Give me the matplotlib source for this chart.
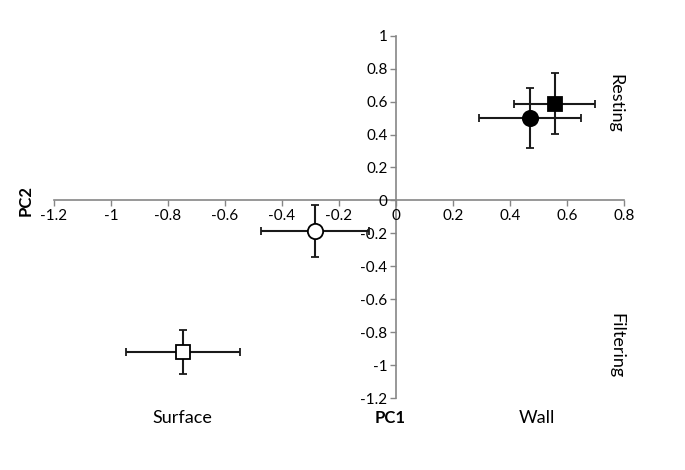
import matplotlib
matplotlib.use("Agg")
import matplotlib.pyplot as plt

plt.rcParams['font.family'] = ['Lato', 'DejaVu Sans']

# Data (PC1, PC2 with errors)
labels = ["filled circle", "filled square", "open circle", "open square"]
pc1 = [0.47, 0.557, -0.284, -0.748]
pc2 = [0.50, 0.588, -0.185, -0.92]
pc1_err = [0.178, 0.142, 0.19, 0.2]
pc2_err = [0.18, 0.183, 0.158, 0.136]
markers = ["o", "s", "o", "s"]
faces = ["black", "black", "white", "white"]
xticks = [-1.2, -1, -0.8, -0.6, -0.4, -0.2, 0, 0.2, 0.4, 0.6, 0.8]
yticks = [-1.2, -1, -0.8, -0.6, -0.4, -0.2, 0, 0.2, 0.4, 0.6, 0.8, 1]

fig = plt.figure(figsize=(6.85, 4.7), dpi=100)
ax = fig.add_axes([0.0788, 0.153, 0.832, 0.771])
ax.set_xlim(-1.2, 0.8)
ax.set_ylim(-1.2, 1.0)

for x, y, xe, ye, m, fc in zip(pc1, pc2, pc1_err, pc2_err, markers, faces):
    ax.errorbar(x, y, xerr=xe, yerr=ye, fmt=m, color="black", mfc=fc, mec="black",
                ms=11 if m == "o" else 10, mew=1.3, ecolor="#1a1a1a", elinewidth=1.5,
                capsize=3, capthick=1.5, zorder=5)

axcol = "#868686"
for s in ["top", "right"]:
    ax.spines[s].set_visible(False)
ax.spines["left"].set_position(("data", 0))
ax.spines["bottom"].set_position(("data", 0))
ax.spines["left"].set_color(axcol)
ax.spines["bottom"].set_color(axcol)
ax.spines["left"].set_linewidth(1.2)
ax.spines["bottom"].set_linewidth(1.2)
ax.spines["left"].set_zorder(1)
ax.spines["bottom"].set_zorder(1)

ax.set_xticks(xticks)
ax.set_yticks(yticks)
ax.set_xticklabels([f"{v:g}" for v in xticks])
ax.set_yticklabels([f"{v:g}" for v in yticks])
ax.tick_params(axis="both", direction="out", length=4, width=1, color=axcol,
               labelsize=11, labelcolor="black", pad=2)

fig.text(0.037, 0.574, "PC2", rotation=90, fontsize=12, fontweight="bold",
         ha="center", va="center")
fig.text(0.570, 0.110, "PC1", fontsize=12, fontweight="bold", ha="center", va="center")
fig.text(0.266, 0.110, "Surface", fontsize=13, ha="center", va="center")
fig.text(0.784, 0.110, "Wall", fontsize=13, ha="center", va="center")
fig.text(0.898, 0.780, "Resting", rotation=-90, fontsize=13, ha="center", va="center")
fig.text(0.900, 0.265, "Filtering", rotation=-90, fontsize=13, ha="center", va="center")

fig.savefig("out.png", dpi=100, facecolor="white")
